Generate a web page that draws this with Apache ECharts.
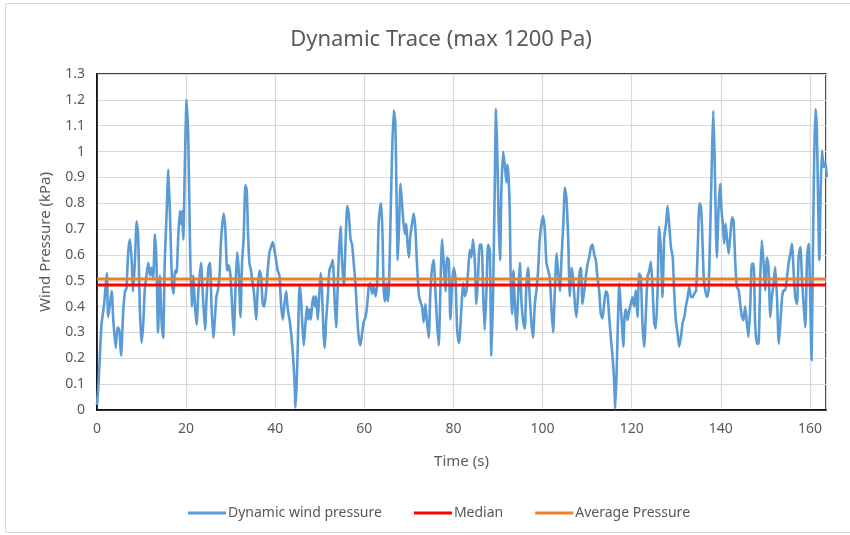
<!DOCTYPE html>
<html>
<head>
<meta charset="utf-8">
<script src="https://cdn.jsdelivr.net/npm/echarts@6/dist/echarts.min.js"></script>
<style>
html,body{margin:0;padding:0;background:#fff;}
#chart{width:850px;height:535px;}
</style>
</head>
<body>
<div id="chart"></div>
<script>
var chartTitle = "Dynamic Trace (max 1200 Pa)";
var xAxisName = "Time (s)";
var yAxisName = "Wind Pressure (kPa)";
var seriesNames = ["Dynamic wind pressure", "Median", "Average Pressure"];
var xTicks = [0, 20, 40, 60, 80, 100, 120, 140, 160];
var yTicks = [0, 0.1, 0.2, 0.3, 0.4, 0.5, 0.6, 0.7, 0.8, 0.9, 1, 1.1, 1.2, 1.3];
var timeMax = 163.6;

var times = [
0,0.4,0.7,1.0,1.6,2.2,2.5,2.9,3.3,3.65,4.2,4.6,5.0,5.4,5.9,6.3,6.6,7.0,7.4,7.8,8.1,8.5,8.9,9.25,9.6,10.0,10.4,10.7,11.1,11.5,11.9,12.2,12.6,13.0,13.35,13.7,14.1,14.5,14.85,15.2,15.6,16.0,16.35,16.6,16.9,17.2,17.5,17.85,18.2,18.6,18.8,19.1,19.35,19.75,20.1,20.5,20.85,21.25,21.6,22.0,22.35,22.75,23.35,23.7,24.25,24.6,25.0,25.35,25.7,26.1,26.8,
27.1,27.5,27.85,28.4,28.8,29.2,29.55,29.95,30.3,30.7,31.05,31.45,31.8,32.2,32.55,32.9,33.3,33.6,33.9,34.2,34.55,34.95,35.3,35.7,36.05,36.45,36.8,37.2,37.55,37.95,38.3,38.7,39.05,39.45,39.8,40.2,40.55,40.95,41.3,41.7,42.05,42.45,42.8,43.2,43.55,43.95,44.3,44.55,44.85,45.15,45.45,45.75,46.05,46.4,46.8,47.1,47.4,47.7,48.0,48.3,48.6,48.95,49.2,49.55,49.9,50.2,50.5,50.8,51.1,51.4,51.8,52.15,52.55,52.9,53.3,53.65,
54.25,54.65,55.0,55.4,55.75,56.15,56.5,56.9,57.25,57.6,58.0,58.4,58.75,59.1,59.5,59.85,60.25,60.6,61.0,61.35,61.75,62.1,62.5,62.85,63.2,63.6,63.8,64.1,64.35,64.65,64.95,65.25,65.55,65.85,66.2,66.6,66.95,67.2,67.5,67.8,68.1,68.45,68.8,69.2,69.4,69.7,70.0,70.3,70.7,71.05,71.45,71.8,72.2,72.55,72.95,73.3,73.7,74.05,74.45,74.8,75.2,75.55,75.95,76.3,76.7,77.05,77.45,77.8,78.2,78.55,78.95,79.3,79.7,80.05,80.45,80.8,81.2,
81.4,81.8,82.15,82.55,82.9,83.3,83.65,84.0,84.4,84.8,85.15,85.5,85.9,86.3,86.65,87.0,87.4,87.75,88.15,88.5,88.9,89.25,89.55,89.85,90.15,90.45,90.75,91.15,91.5,91.9,92.1,92.4,92.65,92.85,93.15,93.45,93.75,94.15,94.5,94.9,95.25,95.6,96.0,96.35,96.75,97.1,97.5,97.85,98.25,98.6,99.0,99.35,99.75,100.1,100.5,100.85,101.25,101.6,102.0,102.35,102.75,103.15,103.5,103.9,104.25,104.65,105.0,105.35,105.75,106.1,106.5,106.85,107.25,107.6,108.0,108.35,
108.6,108.95,109.35,109.7,110.1,110.45,110.85,111.2,111.6,111.95,112.3,112.7,113.05,113.45,113.8,114.2,114.55,114.95,115.3,115.7,116.05,116.3,116.6,116.9,117.2,117.5,117.8,118.1,118.4,118.7,119.05,119.45,119.8,120.15,120.55,120.9,121.3,121.65,122.05,122.4,122.8,123.2,123.55,123.95,124.3,124.7,125.05,125.4,125.8,126.15,126.55,126.9,127.3,127.7,128.05,128.45,128.8,129.2,129.55,129.9,130.3,130.65,131.05,131.4,131.8,132.15,132.55,132.9,133.3,133.65,134.05,134.45,134.8,135.2,135.5,
135.75,136.15,136.5,136.9,137.25,137.65,138.0,138.3,138.6,138.9,139.1,139.5,139.85,140.15,140.45,140.75,141.05,141.35,141.75,142.1,142.5,142.85,143.25,143.6,144.0,144.35,144.75,145.1,145.45,145.85,146.2,146.6,146.95,147.35,147.7,148.1,148.45,148.85,149.2,149.6,149.95,150.35,150.7,151.1,151.45,151.85,152.2,152.6,153.0,153.35,153.75,154.1,154.45,154.85,155.2,155.6,155.95,156.35,156.7,157.1,157.45,157.85,158.2,158.6,158.95,159.35,159.7,160.1,160.35,160.65,160.95,161.25,161.55,161.85,162.1,162.4,162.7,163.05,163.45,163.8
];

var pressure = [
0.02,0.12,0.23,0.33,0.41,0.53,0.36,0.41,0.46,0.35,0.24,0.32,0.31,0.21,0.39,0.46,0.47,0.61,0.66,0.57,0.46,0.57,0.73,0.67,0.40,0.26,0.34,0.46,0.52,0.57,0.52,0.55,0.51,0.68,0.57,0.30,0.52,0.34,0.28,0.57,0.75,0.93,0.77,0.62,0.48,0.45,0.54,0.53,0.66,0.77,0.72,0.77,0.66,0.98,1.20,1.04,0.66,0.40,0.52,0.40,0.33,0.46,0.57,0.46,0.31,0.44,0.55,0.57,0.40,0.28,0.44,
0.46,0.52,0.66,0.76,0.70,0.54,0.56,0.52,0.41,0.29,0.46,0.61,0.54,0.36,0.57,0.66,0.87,0.85,0.68,0.57,0.54,0.49,0.44,0.35,0.46,0.54,0.52,0.41,0.40,0.46,0.54,0.61,0.63,0.65,0.62,0.58,0.54,0.52,0.41,0.35,0.41,0.46,0.39,0.35,0.30,0.22,0.12,0.01,0.12,0.31,0.48,0.44,0.34,0.25,0.34,0.40,0.35,0.39,0.35,0.41,0.44,0.40,0.44,0.35,0.45,0.53,0.46,0.31,0.24,0.34,0.44,0.54,0.56,0.58,0.44,0.32,
0.59,0.71,0.57,0.48,0.63,0.79,0.76,0.66,0.64,0.57,0.49,0.36,0.28,0.25,0.30,0.34,0.36,0.40,0.48,0.49,0.45,0.48,0.44,0.48,0.72,0.79,0.80,0.66,0.46,0.42,0.49,0.42,0.49,0.72,0.98,1.16,1.11,0.85,0.58,0.72,0.875,0.80,0.72,0.68,0.72,0.64,0.59,0.67,0.72,0.76,0.70,0.57,0.45,0.42,0.40,0.34,0.41,0.34,0.28,0.45,0.55,0.58,0.46,0.34,0.25,0.46,0.66,0.57,0.46,0.59,0.58,0.35,0.49,0.55,0.51,0.32,0.26,
0.28,0.40,0.49,0.44,0.46,0.54,0.62,0.59,0.66,0.57,0.41,0.51,0.64,0.64,0.46,0.31,0.46,0.64,0.62,0.21,0.46,0.85,1.165,0.98,0.72,0.58,0.85,1.00,0.95,0.88,0.95,0.89,0.75,0.49,0.37,0.54,0.42,0.31,0.44,0.57,0.42,0.35,0.315,0.48,0.55,0.44,0.335,0.28,0.41,0.46,0.54,0.66,0.72,0.75,0.695,0.57,0.54,0.515,0.39,0.30,0.46,0.605,0.53,0.46,0.59,0.72,0.86,0.82,0.66,0.44,0.55,0.51,0.41,0.36,0.46,0.54,
0.55,0.41,0.46,0.515,0.566,0.59,0.63,0.64,0.60,0.58,0.515,0.46,0.373,0.354,0.41,0.46,0.45,0.36,0.283,0.206,0.116,0.006,0.14,0.335,0.49,0.41,0.335,0.245,0.36,0.39,0.347,0.386,0.41,0.437,0.40,0.463,0.36,0.528,0.515,0.335,0.245,0.386,0.515,0.54,0.573,0.463,0.335,0.315,0.463,0.708,0.618,0.437,0.669,0.72,0.79,0.708,0.63,0.59,0.45,0.347,0.296,0.245,0.283,0.335,0.36,0.40,0.437,0.476,0.437,0.437,0.45,0.463,0.618,0.80,0.79,
0.72,0.515,0.463,0.437,0.463,0.72,0.978,1.158,0.978,0.695,0.59,0.785,0.875,0.772,0.72,0.643,0.72,0.669,0.605,0.669,0.746,0.733,0.566,0.476,0.463,0.41,0.36,0.347,0.40,0.335,0.283,0.40,0.566,0.566,0.335,0.257,0.257,0.515,0.656,0.566,0.463,0.59,0.553,0.36,0.437,0.49,0.553,0.437,0.257,0.335,0.437,0.463,0.463,0.515,0.566,0.605,0.643,0.528,0.437,0.41,0.59,0.63,0.515,0.40,0.32,0.59,0.643,0.40,0.193,0.59,0.978,1.165,1.08,0.785,0.58,0.85,1.004,0.94,0.96,0.90
];

var medianValue = 0.484;
var averageValue = 0.507;

var colors = ["#5B9BD5", "#FF0000", "#ED7D31"];
var textColor = "#595959";
var fontFam = "'Noto Sans', 'Open Sans', sans-serif";

var traceData = times.map(function (t, i) { return [t, pressure[i]]; });
var medianData = [[0, medianValue], [timeMax, medianValue]];
var averageData = [[0, averageValue], [timeMax, averageValue]];

var chart = echarts.init(document.getElementById('chart'), null, { renderer: 'canvas' });
chart.setOption({
  animation: false,
  backgroundColor: '#fff',
  color: colors,
  textStyle: { fontFamily: fontFam, color: textColor },
  graphic: [{
    type: 'rect',
    shape: { x: 5.5, y: 3.5, width: 845, height: 529 },
    style: { fill: 'none', stroke: '#d9d9d9', lineWidth: 1 },
    silent: true, z: -1
  }],
  title: {
    text: chartTitle,
    left: 436,
    top: 24,
    textAlign: 'center',
    textStyle: { fontFamily: fontFam, fontSize: 22, fontWeight: 'normal', color: textColor }
  },
  grid: {
    left: 97, right: 24, top: 74, bottom: 125,
    show: true, borderColor: '#000', borderWidth: 1.5, backgroundColor: 'transparent'
  },
  legend: {
    data: seriesNames,
    left: 183,
    top: 501,
    icon: 'rect',
    itemWidth: 38,
    itemHeight: 3,
    itemGap: 32,
    textStyle: { fontFamily: fontFam, fontSize: 14, color: textColor, padding: [0, 0, 0, -3] }
  },
  xAxis: {
    type: 'value',
    min: xTicks[0],
    max: timeMax,
    interval: xTicks[1] - xTicks[0],
    name: xAxisName,
    nameLocation: 'middle',
    nameGap: 44,
    nameTextStyle: { fontFamily: fontFam, fontSize: 15, color: textColor },
    axisLine: { show: true, lineStyle: { color: '#000', width: 1.5 } },
    axisTick: { show: false },
    axisLabel: { margin: 12, fontSize: 14, color: textColor, fontFamily: fontFam, showMaxLabel: false },
    splitLine: { show: true, lineStyle: { color: '#d9d9d9', width: 1.2 } }
  },
  yAxis: {
    type: 'value',
    min: yTicks[0],
    max: yTicks[yTicks.length - 1],
    interval: 0.1,
    name: yAxisName,
    nameLocation: 'middle',
    nameGap: 44,
    nameRotate: 90,
    nameTextStyle: { fontFamily: fontFam, fontSize: 15, color: textColor },
    axisLine: { show: true, lineStyle: { color: '#000', width: 1.5 } },
    axisTick: { show: false },
    axisLabel: { margin: 12, fontSize: 14, color: textColor, fontFamily: fontFam,
      formatter: function (v) { return String(Math.round(v * 10) / 10); } },
    splitLine: { show: true, lineStyle: { color: '#d9d9d9', width: 1.2 } }
  },
  series: [
    { name: seriesNames[0], type: 'line', data: traceData, showSymbol: false, symbol: 'none',
      smooth: 0.2,
      lineStyle: { color: colors[0], width: 2.6, join: 'round' }, z: 2 },
    { name: seriesNames[1], type: 'line', data: medianData, showSymbol: false, symbol: 'none',
      lineStyle: { color: colors[1], width: 3 }, z: 3 },
    { name: seriesNames[2], type: 'line', data: averageData, showSymbol: false, symbol: 'none',
      lineStyle: { color: colors[2], width: 3 }, z: 3 }
  ]
});
</script>
</body>
</html>
